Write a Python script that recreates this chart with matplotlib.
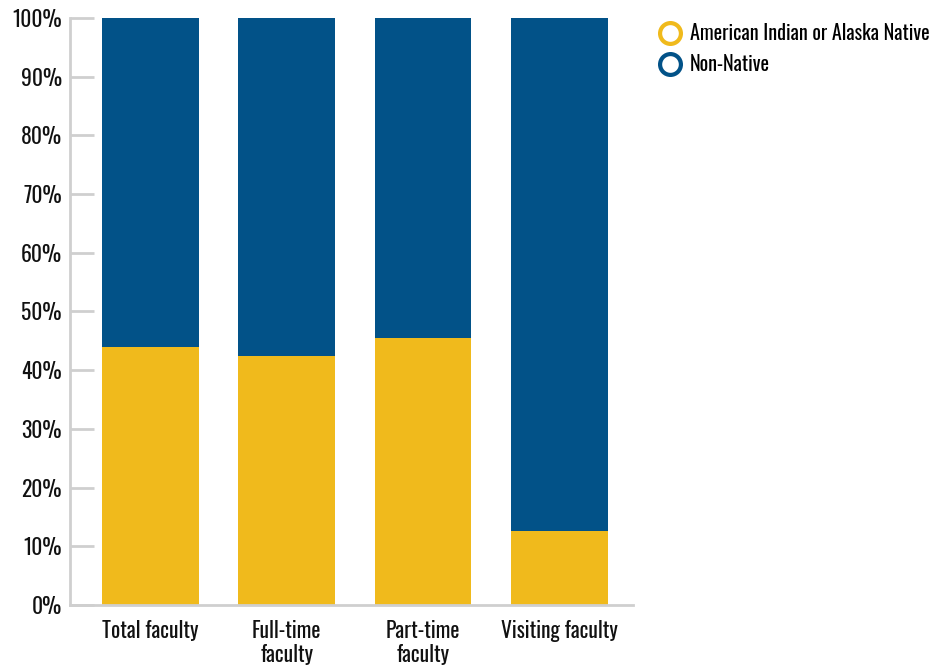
import matplotlib
matplotlib.use("Agg")
import matplotlib.pyplot as plt
from matplotlib.lines import Line2D

# Data
categories = ["Total faculty", "Full-time\nfaculty", "Part-time\nfaculty", "Visiting faculty"]
native = [44.0, 42.4, 45.5, 12.6]
non_native = [100 - v for v in native]
series_names = ["American Indian or Alaska Native", "Non-Native"]
y_ticks = [0, 10, 20, 30, 40, 50, 60, 70, 80, 90, 100]

yellow = "#F0BA1C"
blue = "#025288"
grey = "#cfcfcf"

plt.rcParams["font.family"] = ["Oswald", "DejaVu Sans"]

fig = plt.figure(figsize=(9.3, 6.66), dpi=100)
ax = fig.add_axes([0.0753, 0.0916, 0.6053, 0.8814])

x = list(range(len(categories)))
ax.bar(x, native, width=0.71, color=yellow)
ax.bar(x, non_native, bottom=native, width=0.71, color=blue)

ax.set_xlim(-0.59, 3.54)
ax.set_ylim(0, 100)
ax.set_yticks(y_ticks)
ax.set_yticklabels([f"{t}%" for t in y_ticks], fontsize=15.5, color="#111111")
ax.set_xticks(x)
ax.set_xticklabels(categories, fontsize=15.5, color="#111111", linespacing=1.1)

for s in ["top", "right"]:
    ax.spines[s].set_visible(False)
for s in ["left", "bottom"]:
    ax.spines[s].set_color(grey)
    ax.spines[s].set_linewidth(2)
ax.tick_params(axis="y", direction="in", length=17, width=2, color=grey, pad=6)
ax.tick_params(axis="x", length=0, pad=11)

handles = [
    Line2D([], [], marker="o", linestyle="none", markersize=15, markerfacecolor="white",
           markeredgecolor=yellow, markeredgewidth=3),
    Line2D([], [], marker="o", linestyle="none", markersize=15, markerfacecolor="white",
           markeredgecolor=blue, markeredgewidth=3),
]
fig.legend(handles, series_names, loc="upper left", bbox_to_anchor=(0.701, 0.978),
           frameon=False, fontsize=14.5, handletextpad=0.5, labelspacing=0.55,
           handlelength=1.0, borderaxespad=0)

fig.savefig("out.png", dpi=100)
